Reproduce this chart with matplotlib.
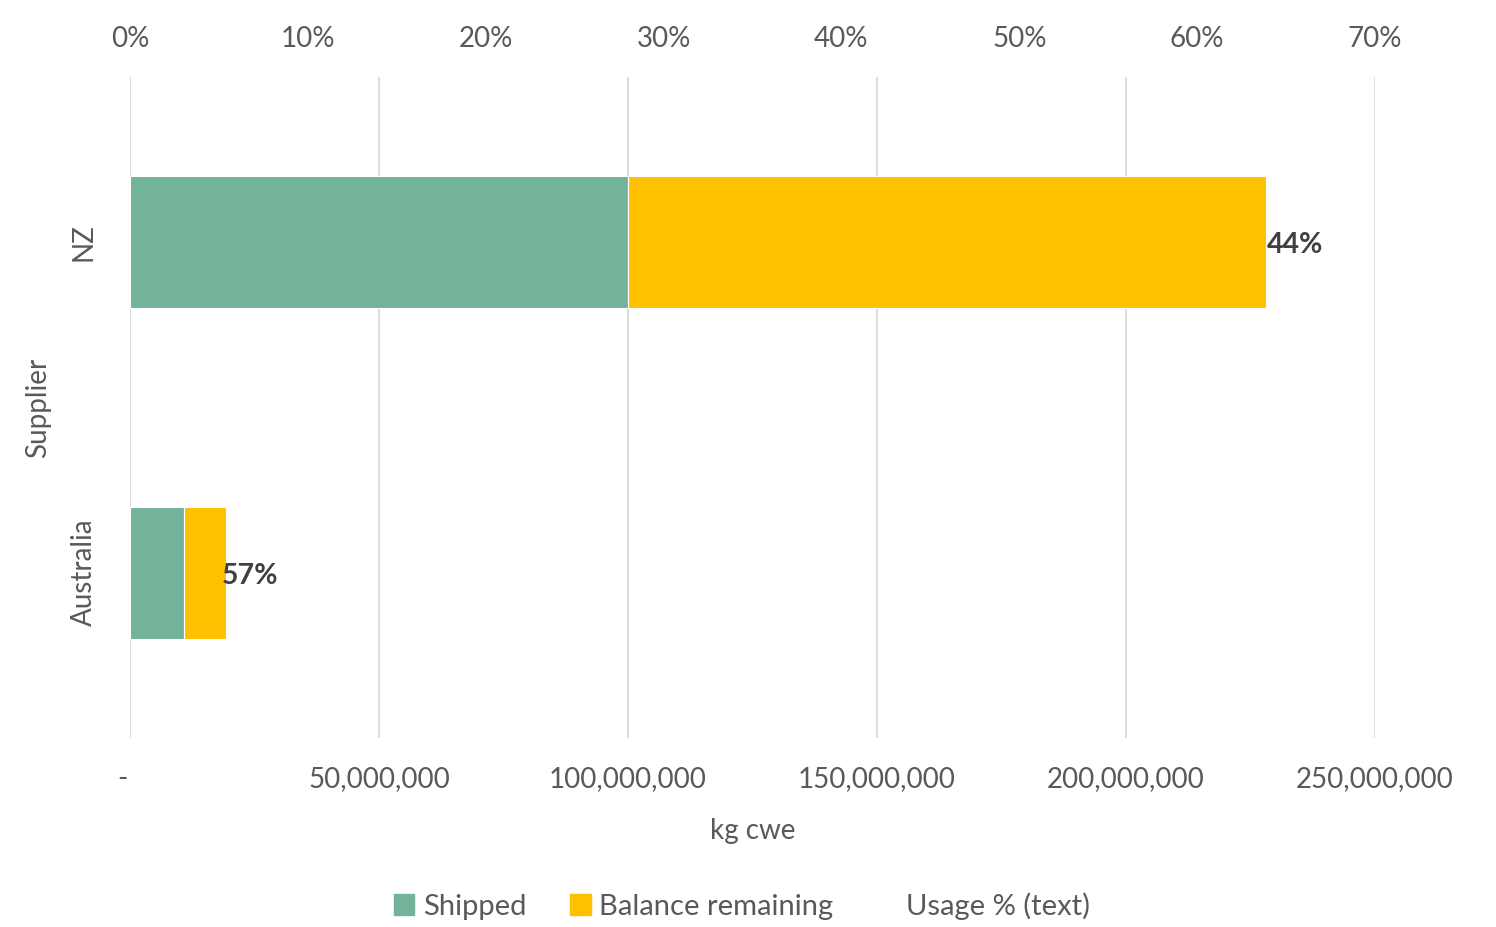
import matplotlib
matplotlib.use("Agg")
import matplotlib.pyplot as plt
from matplotlib.patches import Patch
from matplotlib.ticker import FuncFormatter

plt.rcParams['font.family'] = ['Lato', 'DejaVu Sans']

# data
suppliers = ["NZ", "Australia"]
shipped = [100_000_000, 10_800_000]
balance = [128_100_000, 8_500_000]
usage_labels = ["44%", "57%"]

GREEN = "#72B39A"
YELLOW = "#FFC000"
TXT = "#595959"

fig = plt.figure(figsize=(14.96, 9.27), dpi=100)
ax = fig.add_axes([130 / 1496, 1 - 738 / 927, (1375 - 130) / 1496, (738 - 77) / 927])

ypos = [0, 1]
ax.barh(ypos, shipped, height=0.4, color=GREEN, edgecolor="white", linewidth=0.8, zorder=3)
ax.barh(ypos, balance, left=shipped, height=0.4, color=YELLOW, edgecolor="white",
        linewidth=0.8, zorder=3)

for y, s, b, lab in zip(ypos, shipped, balance, usage_labels):
    ax.annotate(lab, (s + b, y), xytext=(-3 if y else 1, -2), textcoords="offset points",
                ha="left", va="center", fontsize=20.5, fontweight="bold", color="#404040", zorder=4)

ax.set_xlim(0, 250_000_000)
ax.set_ylim(1.5, -0.5)
ax.set_xticks(range(0, 250_000_001, 50_000_000))
ax.xaxis.set_major_formatter(FuncFormatter(lambda v, p: "-  " if v == 0 else f"{v:,.0f}"))
ax.set_yticks(ypos)
ax.set_yticklabels(suppliers, rotation=90, va="center")
ax.tick_params(axis="x", length=0, pad=20, labelsize=20, colors=TXT)
ax.tick_params(axis="y", length=0, pad=24, labelsize=20, colors=TXT)
ax.grid(axis="x", color="#D9D9D9", linewidth=1.3, zorder=0)
for sp in ax.spines.values():
    sp.set_visible(False)
ax.set_xlabel("kg cwe", fontsize=20, color=TXT, labelpad=19)
ax.set_ylabel("Supplier", fontsize=20, color=TXT, labelpad=14)

# secondary (percent) axis on top
top = ax.secondary_xaxis("top", functions=(lambda v: v / 250_000_000 * 0.7,
                                           lambda p: p / 0.7 * 250_000_000))
top.set_xticks([i / 10 for i in range(8)])
top.xaxis.set_major_formatter(FuncFormatter(lambda v, p: f"{v * 100:.0f}%"))
top.tick_params(length=0, pad=18, labelsize=20, colors=TXT)
for sp in top.spines.values():
    sp.set_visible(False)

handles = [Patch(color=GREEN, label="Shipped"),
           Patch(color=YELLOW, label="Balance remaining"),
           Patch(facecolor="none", edgecolor="none", label="Usage % (text)")]
fig.legend(handles=handles, loc="center", bbox_to_anchor=(742 / 1496, 1 - 906 / 927), ncol=3,
           frameon=False, fontsize=21, labelcolor=TXT, handlelength=0.7, handleheight=0.7,
           handletextpad=0.3, columnspacing=1.5)

fig.savefig("out.png", dpi=100, facecolor="white")
